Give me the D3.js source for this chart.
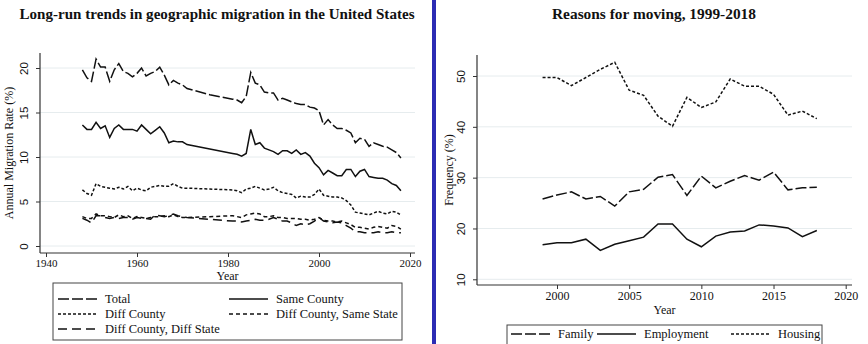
<!DOCTYPE html>
<html>
<head>
<meta charset="utf-8">
<script src="https://cdn.jsdelivr.net/npm/d3@7"></script>
<style>
body { margin: 0; background: #fff; }
svg { display: block; }
</style>
</head>
<body>
<svg id="chart" width="868" height="344"></svg>
<script>
// left panel data
var years = [1948,1949,1950,1951,1952,1953,1954,1955,1956,1957,1958,1959,1960,1961,1962,1963,1964,1965,1966,1967,1968,1969,1970,1971,
  1976,1981,1982,1983,1984,1985,1986,1987,1988,1989,1990,1991,1992,1993,1994,1995,1996,1997,1998,1999,2000,
  2001,2002,2003,2004,2005,2006,2007,2008,2009,2010,2011,2012,2013,2014,2015,2016,2017,2018];
var total = [19.8,18.9,18.5,21.0,20.1,20.1,18.5,19.8,20.5,19.6,19.4,19.0,19.4,20.0,19.1,19.4,19.6,20.1,19.2,18.1,18.6,18.3,18.1,17.7,
  17.0,16.5,16.4,16.1,16.8,19.5,18.3,18.1,17.3,17.2,17.2,16.4,16.6,16.4,16.2,16.0,15.9,15.9,15.6,15.5,15.2,
  13.6,14.2,13.6,13.2,13.2,13.0,12.7,11.6,12.1,12.0,11.2,11.6,11.4,11.2,11.1,10.8,10.5,9.9];
var sameCounty = [13.6,13.1,13.1,13.9,13.2,13.5,12.2,13.2,13.6,13.1,13.1,13.1,12.9,13.6,13.1,12.6,13.0,13.4,12.7,11.6,11.8,11.7,11.7,11.4,
  10.9,10.4,10.3,10.1,10.4,13.1,11.4,11.6,11.0,10.8,10.6,10.3,10.7,10.7,10.4,10.8,10.3,10.5,10.1,9.3,8.8,
  8.0,8.5,8.2,7.9,7.9,8.6,8.6,7.8,8.4,8.6,7.8,7.7,7.6,7.6,7.4,7.0,6.8,6.2];
var diffCounty = [6.3,5.9,5.7,7.0,6.7,6.6,6.5,6.4,6.6,6.4,6.7,6.2,6.5,6.3,6.2,6.6,6.7,6.8,6.7,6.7,7.0,6.7,6.5,6.5,
  6.4,6.3,6.2,6.0,6.4,6.5,6.7,6.5,6.3,6.4,6.6,6.2,6.0,5.9,5.8,5.4,5.6,5.5,5.5,5.8,6.4,
  5.7,5.6,5.5,5.5,5.4,5.1,4.6,3.8,3.7,3.6,3.5,3.7,3.9,3.7,3.6,3.9,3.8,3.5];
var sameState = [3.3,3.1,3.1,3.6,3.4,3.4,3.3,3.2,3.5,3.3,3.4,3.1,3.3,3.2,3.1,3.2,3.3,3.3,3.4,3.3,3.5,3.3,3.2,3.2,
  3.3,3.4,3.3,3.2,3.5,3.6,3.7,3.6,3.3,3.3,3.4,3.2,3.2,3.1,3.1,3.1,3.0,3.0,2.9,3.0,3.2,
  2.9,2.8,2.8,2.7,2.8,2.6,2.4,2.1,2.1,2.0,1.9,2.1,2.2,2.1,2.0,2.3,2.2,1.9];
var diffState = [3.1,2.9,2.6,3.4,3.4,3.2,3.1,3.2,3.1,3.2,3.2,3.0,3.2,3.1,3.1,3.0,3.5,3.4,3.3,3.4,3.6,3.4,3.3,3.2,
  3.0,2.8,2.8,2.7,2.8,2.9,3.0,2.9,2.9,3.0,3.2,3.0,2.8,2.8,2.6,2.3,2.5,2.4,2.5,2.8,3.2,
  2.8,2.7,2.6,2.7,2.6,2.3,2.0,1.6,1.6,1.5,1.5,1.5,1.6,1.5,1.5,1.6,1.5,1.5];
var leftXTicks = [1940,1960,1980,2000,2020];
var leftYTicks = [0,5,10,15,20];

// right panel data
var rYears = [1999,2000,2001,2002,2003,2004,2005,2006,2007,2008,2009,2010,2011,2012,2013,2014,2015,2016,2017,2018];
var family = [25.8,26.6,27.2,25.8,26.3,24.4,27.2,27.7,30.1,30.6,26.5,30.3,28.0,29.3,30.4,29.5,31.1,27.6,28.0,28.1];
var employment = [16.8,17.2,17.2,17.9,15.7,16.9,17.6,18.3,20.9,20.9,17.9,16.4,18.5,19.3,19.5,20.7,20.5,20.1,18.4,19.6];
var housing = [49.7,49.7,48.1,49.7,51.3,52.7,47.2,46.2,42.1,40.1,45.8,43.8,44.9,49.4,48.0,48.0,46.4,42.3,43.1,41.6];
var rightXTicks = [2000,2005,2010,2015,2020];
var rightYTicks = [10,20,30,40,50];

var svg = d3.select('#chart');
var serif = '"Liberation Serif", "Times New Roman", serif';
var sans = '"Liberation Sans", Arial, sans-serif';

var draw_panel = function(p) {
    var g = svg.append('g');
    // grid
    p.yTicks.forEach(function(t) {
        g.append('line')
            .attr('x1', p.left).attr('x2', p.right)
            .attr('y1', p.y(t)).attr('y2', p.y(t))
            .attr('stroke', '#e6ecee').attr('stroke-width', 1);
    });
    // axes
    var yAxis = d3.axisLeft(p.y).tickValues(p.yTicks).tickSize(4).tickPadding(4);
    var xAxis = d3.axisBottom(p.x).tickValues(p.xTicks).tickSize(4).tickPadding(2).tickFormat(d3.format('d'));
    var ya = g.append('g').attr('transform', 'translate(' + p.left + ',0)').call(yAxis);
    var xa = g.append('g').attr('transform', 'translate(0,' + p.bottom + ')').call(xAxis);
    ya.select('.domain').remove();
    xa.select('.domain').remove();
    g.append('line').attr('x1', p.left).attr('x2', p.left).attr('y1', p.top).attr('y2', p.bottom)
        .attr('stroke', '#333').attr('stroke-width', 1.2);
    g.append('line').attr('x1', p.left).attr('x2', p.right).attr('y1', p.bottom).attr('y2', p.bottom)
        .attr('stroke', '#333').attr('stroke-width', 1.2);
    ya.selectAll('.tick line').attr('stroke', '#333');
    xa.selectAll('.tick line').attr('stroke', '#333');
    ya.selectAll('.tick text')
        .attr('font-family', sans).attr('font-size', 11.5).attr('fill', '#111')
        .attr('text-anchor', 'middle').attr('x', 0).attr('dy', 0)
        .attr('transform', 'translate(' + (-p.yLabOff) + ',0) rotate(-90)');
    xa.selectAll('.tick text')
        .attr('font-family', serif).attr('font-size', p.tickSize).attr('fill', '#111');

    // axis titles
    g.append('text').text(p.yTitle)
        .attr('transform', 'translate(' + p.yTitleX + ',' + ((p.top + p.bottom) / 2) + ') rotate(-90)')
        .attr('text-anchor', 'middle').attr('font-family', serif).attr('font-size', 12).attr('fill', '#111');
    g.append('text').text('Year')
        .attr('x', (p.left + p.right) / 2).attr('y', p.yearY)
        .attr('text-anchor', 'middle').attr('font-family', serif).attr('font-size', 12).attr('fill', '#111');
    g.append('text').text(p.title)
        .attr('x', p.titleX).attr('y', 19)
        .attr('text-anchor', 'middle').attr('font-family', serif).attr('font-weight', 'bold')
        .attr('font-size', 15).attr('textLength', p.titleW).attr('lengthAdjust', 'spacingAndGlyphs')
        .attr('fill', '#111');

    // series
    p.series.forEach(function(s) {
        var line = d3.line()
            .x(function(d, i) { return p.x(p.years[i]); })
            .y(function(d) { return p.y(d); });
        g.append('path')
            .attr('d', line(s.values))
            .attr('fill', 'none').attr('stroke', '#111').attr('stroke-width', 1.5)
            .attr('stroke-dasharray', s.dash);
    });

    // legend
    g.append('rect')
        .attr('x', p.legend.x).attr('y', p.legend.y).attr('width', p.legend.w).attr('height', p.legend.h)
        .attr('fill', '#fff').attr('stroke', '#444').attr('stroke-width', 1);
    p.series.forEach(function(s, i) {
        var pos = p.legend.pos[i];
        g.append('line')
            .attr('x1', pos[0]).attr('x2', pos[0] + 39).attr('y1', pos[1]).attr('y2', pos[1])
            .attr('stroke', '#111').attr('stroke-width', 1.4).attr('stroke-dasharray', s.dash);
        g.append('text').text(s.name)
            .attr('x', pos[0] + 47).attr('y', pos[1] + 4)
            .attr('font-family', serif).attr('font-size', p.legend.size).attr('fill', '#111');
    });
};

draw_panel({
    left: 40, right: 415, top: 53, bottom: 253,
    x: d3.scaleLinear().domain([1940, 2020]).range([46, 410]),
    y: d3.scaleLinear().domain([0, 20]).range([246, 68]),
    xTicks: leftXTicks, yTicks: leftYTicks, years: years, tickSize: 11, yLabOff: 12,
    yTitle: 'Annual Migration Rate (%)', yTitleX: 13, yearY: 280,
    title: 'Long-run trends in geographic migration in the United States', titleX: 217, titleW: 395,
    series: [
        {name: 'Total', values: total, dash: '11,3'},
        {name: 'Same County', values: sameCounty, dash: null},
        {name: 'Diff County', values: diffCounty, dash: '3,2'},
        {name: 'Diff County, Same State', values: sameState, dash: '4,3'},
        {name: 'Diff County, Diff State', values: diffState, dash: '9,5'}
    ],
    legend: {x: 53, y: 283, w: 349, h: 57, size: 12.5,
        pos: [[58, 299], [229, 299], [58, 314], [229, 314], [58, 329]]}
});

draw_panel({
    left: 477, right: 852, top: 55, bottom: 285,
    x: d3.scaleLinear().domain([2000, 2020]).range([557, 845.7]),
    y: d3.scaleLinear().domain([10, 50]).range([279.3, 76]),
    xTicks: rightXTicks, yTicks: rightYTicks, years: rYears, tickSize: 12, yLabOff: 12,
    yTitle: 'Frequency (%)', yTitleX: 453, yearY: 314,
    title: 'Reasons for moving, 1999-2018', titleX: 654, titleW: 204,
    series: [
        {name: 'Family', values: family, dash: '11,3'},
        {name: 'Employment', values: employment, dash: null},
        {name: 'Housing', values: housing, dash: '3,2'}
    ],
    legend: {x: 507, y: 325, w: 315, h: 21, size: 12.5,
        pos: [[511, 334], [597, 334], [731, 334]]}
});

// blue divider between the panels
svg.append('rect').attr('x', 432).attr('y', 0).attr('width', 4).attr('height', 344).attr('fill', '#2c2cb4');
</script>
</body>
</html>
